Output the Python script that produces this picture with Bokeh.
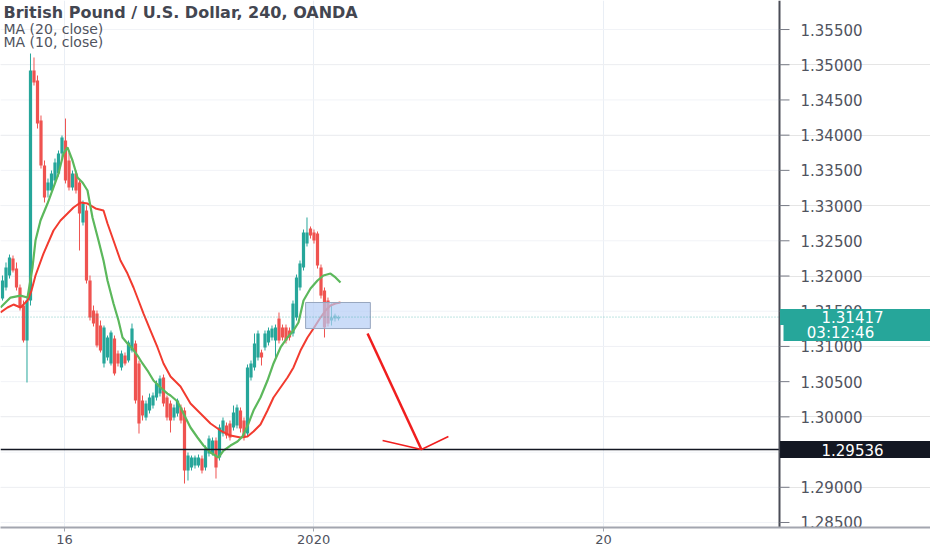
from bokeh.plotting import figure
from bokeh.models import Range1d, FixedTicker, Label, ColumnDataSource
from bokeh.core.properties import value
from bokeh.embed import file_html
from bokeh.resources import INLINE

# ---------------- data (GBP/USD, 4h candles) ----------------
opens = [1.31680, 1.31837, 1.32007, 1.32248, 1.32106, 1.31837, 1.31581, 1.31084, 1.31652, 1.34918,
         1.34776, 1.34208, 1.33569, 1.33214, 1.33214, 1.33356, 1.33455, 1.33739, 1.33924, 1.33640,
         1.33257, 1.33455, 1.33328, 1.32760, 1.32930, 1.31936, 1.31510, 1.31466, 1.31297, 1.30758,
         1.30843, 1.30758, 1.31113, 1.30899, 1.30701, 1.30871, 1.30800, 1.30942, 1.31042, 1.30758,
         1.30232, 1.29991, 1.30090, 1.30161, 1.30275, 1.30331, 1.30559, 1.30275, 1.30189, 1.29991,
         1.30048, 1.30133, 1.30090, 1.29238, 1.29281, 1.29309, 1.29309, 1.29408, 1.29281, 1.29479,
         1.29479, 1.29664, 1.29423, 1.29763, 1.29877, 1.29906, 1.29849, 1.29877, 1.30090, 1.29948,
         1.29763, 1.30559, 1.30701, 1.30843, 1.30914, 1.30985, 1.31056, 1.31127, 1.31084, 1.31396,
         1.31269, 1.31269, 1.31226, 1.31184, 1.31411, 1.31837, 1.32121, 1.32461, 1.32674, 1.32618,
         1.32603, 1.32121, 1.31794, 1.31652, 1.31368, 1.31396, 1.31396]
highs = [1.32007, 1.32192, 1.32305, 1.32291, 1.32192, 1.31879, 1.31652, 1.31694, 1.35159, 1.35103,
         1.34847, 1.34279, 1.33640, 1.33384, 1.33498, 1.33668, 1.33782, 1.33995, 1.34236, 1.33754,
         1.33498, 1.33498, 1.33356, 1.33072, 1.33001, 1.32007, 1.31581, 1.31510, 1.31368, 1.31297,
         1.31155, 1.31226, 1.31155, 1.30942, 1.30942, 1.30914, 1.31084, 1.31325, 1.31084, 1.30800,
         1.30303, 1.30232, 1.30331, 1.30346, 1.30516, 1.30587, 1.30601, 1.30303, 1.30232, 1.30175,
         1.30260, 1.30175, 1.30133, 1.29494, 1.29451, 1.29451, 1.29465, 1.29451, 1.29593, 1.29735,
         1.29707, 1.29707, 1.29892, 1.29991, 1.29920, 1.29948, 1.30161, 1.30175, 1.30133, 1.29991,
         1.30744, 1.30800, 1.31184, 1.31226, 1.30954, 1.31226, 1.31269, 1.31297, 1.31311, 1.31482,
         1.31311, 1.31311, 1.31269, 1.31652, 1.32021, 1.32220, 1.32660, 1.32831, 1.32703, 1.32660,
         1.32632, 1.32163, 1.31837, 1.31694, 1.31609, 1.31466, 1.31439]
lows = [1.31652, 1.31794, 1.31964, 1.32050, 1.31794, 1.31510, 1.31056, 1.30488, 1.31581, 1.34705,
        1.34094, 1.33526, 1.33044, 1.33115, 1.33186, 1.33328, 1.33413, 1.33668, 1.33314, 1.33214,
        1.33214, 1.33171, 1.32362, 1.32717, 1.31893, 1.31368, 1.31283, 1.30985, 1.30914, 1.30701,
        1.30800, 1.30729, 1.30587, 1.30715, 1.30658, 1.30729, 1.30772, 1.30914, 1.30189, 1.29763,
        1.29948, 1.29948, 1.30048, 1.30118, 1.30232, 1.30289, 1.30147, 1.29948, 1.29778, 1.29948,
        1.30005, 1.29906, 1.29053, 1.29096, 1.29238, 1.29266, 1.29281, 1.29196, 1.29238, 1.29437,
        1.29451, 1.29124, 1.29380, 1.29721, 1.29692, 1.29664, 1.29806, 1.29836, 1.29778, 1.29664,
        1.29721, 1.30516, 1.30658, 1.30800, 1.30729, 1.30942, 1.31013, 1.31084, 1.30843, 1.31042,
        1.31084, 1.31042, 1.31084, 1.31141, 1.31368, 1.31794, 1.32078, 1.32419, 1.32532, 1.32461,
        1.32106, 1.31680, 1.31127, 1.31283, 1.31297, 1.31354, 1.31368]
closes = [1.31936, 1.32121, 1.32263, 1.32078, 1.31837, 1.31553, 1.31084, 1.31652, 1.34918, 1.34748,
          1.34165, 1.33569, 1.33115, 1.33328, 1.33455, 1.33612, 1.33739, 1.33967, 1.33356, 1.33257,
          1.33455, 1.33214, 1.32887, 1.33029, 1.31936, 1.31411, 1.31325, 1.31013, 1.30942, 1.31269,
          1.31127, 1.31198, 1.30616, 1.30758, 1.30899, 1.30758, 1.31056, 1.31254, 1.30232, 1.29906,
          1.30019, 1.30189, 1.30275, 1.30303, 1.30474, 1.30544, 1.30189, 1.29991, 1.29948, 1.30133,
          1.30232, 1.29948, 1.29238, 1.29451, 1.29423, 1.29423, 1.29423, 1.29238, 1.29550, 1.29692,
          1.29664, 1.29281, 1.29849, 1.29948, 1.29735, 1.29707, 1.30062, 1.30133, 1.29836, 1.29707,
          1.30701, 1.30758, 1.31042, 1.31184, 1.30843, 1.31184, 1.31226, 1.31254, 1.31269, 1.31084,
          1.31127, 1.31084, 1.31127, 1.31609, 1.31979, 1.32178, 1.32618, 1.32618, 1.32575, 1.32504,
          1.32149, 1.31722, 1.31269, 1.31325, 1.31411, 1.31439, 1.31417]

# moving averages (x = candle index)
ma10_x = [-0.57, 2.29, 5.14, 7.14, 8.57, 9.43, 10.86, 12.86, 14.57, 16.0, 17.43, 18.57, 20.0, 21.43,
          22.86, 24.29, 25.71, 27.43, 28.86, 30.0, 31.71, 33.14, 34.29, 35.71, 37.14, 38.57, 40.0,
          41.43, 43.14, 45.14, 47.14, 48.0, 50.0, 51.71, 53.71, 55.71, 57.43, 59.43, 61.71, 63.14,
          65.14, 67.14, 68.57, 70.29, 71.71, 73.71, 75.71, 77.43, 79.43, 81.43, 83.14, 84.57, 86.0,
          88.0, 90.0, 91.71, 93.71, 95.14, 96.57]
ma10_y = [1.31553, 1.31694, 1.31722, 1.31694, 1.32121, 1.32504, 1.32788, 1.33029, 1.33257, 1.33455,
          1.33739, 1.33825, 1.33640, 1.33399, 1.33328, 1.33214, 1.32831, 1.32504, 1.32220, 1.31936,
          1.31609, 1.31368, 1.31127, 1.31042, 1.30970, 1.30871, 1.30758, 1.30658, 1.30516, 1.30417,
          1.30331, 1.30303, 1.30218, 1.30048, 1.29849, 1.29707, 1.29593, 1.29494, 1.29423, 1.29522,
          1.29593, 1.29650, 1.29721, 1.29906, 1.30090, 1.30275, 1.30516, 1.30758, 1.30985, 1.31127,
          1.31226, 1.31340, 1.31652, 1.31822, 1.31936, 1.32007, 1.32035, 1.31979, 1.31908]
ma20_x = [-0.57, 1.43, 3.14, 5.14, 7.14, 8.29, 9.43, 11.71, 14.57, 16.57, 18.57, 20.29, 22.29, 24.29,
          26.57, 28.86, 30.0, 31.71, 33.71, 35.71, 37.43, 38.86, 40.29, 42.29, 44.29, 46.0, 48.0,
          50.86, 53.71, 56.57, 59.43, 62.29, 65.14, 68.0, 70.0, 71.71, 73.71, 75.71, 77.43, 79.43,
          81.43, 83.14, 85.14, 87.14, 88.86, 90.86, 92.29, 93.71, 95.14, 96.57]
ma20_y = [1.31482, 1.31553, 1.31595, 1.31553, 1.31652, 1.31794, 1.32007, 1.32319, 1.32646, 1.32788,
          1.32887, 1.32973, 1.33044, 1.33029, 1.32959, 1.32930, 1.32745, 1.32504, 1.32220, 1.32035,
          1.31837, 1.31652, 1.31466, 1.31226, 1.30985, 1.30758, 1.30573, 1.30431, 1.30189, 1.30048,
          1.29906, 1.29806, 1.29735, 1.29707, 1.29721, 1.29792, 1.29892, 1.30090, 1.30275, 1.30417,
          1.30559, 1.30701, 1.30942, 1.31127, 1.31254, 1.31411, 1.31510, 1.31581, 1.31609, 1.31624]

price_ticks = [1.285, 1.290, 1.295, 1.300, 1.305, 1.310, 1.315, 1.320, 1.325, 1.330,
               1.335, 1.340, 1.345, 1.350, 1.355]
time_tick_pos = [17.7, 88.9, 171.7]
time_tick_labels = ["16", "2020", "20"]

title_text = "British Pound / U.S. Dollar, 240, OANDA"
ma_labels = ["MA (20, close)", "MA (10, close)"]
support_level = 1.29536
last_price = 1.31417
countdown = "03:12:46"
countdown_level = 1.31191
zone_x = [86.6, 105.1]
zone_y = [1.31254, 1.31624]
arrow_x = [104.3, 119.7]
arrow_y = [1.31184, 1.29536]
head_x = [108.6, 119.7, 127.4]
head_y = [1.29664, 1.29536, 1.29721]

# ---------------- layout / styling constants ----------------
UP = "#26a69a"
DOWN = "#ef5350"
FONT = "DejaVu Sans"
PX = 3.5                      # pixels per candle slot
X_START, X_END = -0.571, 265.143
Y_LOW, Y_HIGH = 1.28429, 1.35912
AXIS_X = 222.0                # price-scale position (in candle slots)
TICK_LEN = 10 / PX
LABEL_X = AXIS_X + 21 / PX

idx = list(range(len(opens)))
colors = [UP if c >= o else DOWN for o, c in zip(opens, closes)]
src = ColumnDataSource(dict(
    x=idx, o=opens, h=highs, l=lows, c=closes,
    top=[max(o, c) for o, c in zip(opens, closes)],
    bottom=[min(o, c) for o, c in zip(opens, closes)],
    color=colors,
))

p = figure(frame_width=930, frame_height=527,
           x_range=Range1d(X_START, X_END), y_range=Range1d(Y_LOW, Y_HIGH),
           y_axis_location=None, output_backend="svg", toolbar_location=None,
           min_border_left=0, min_border_top=0, min_border_right=0, min_border_bottom=21)
p.outline_line_color = None
p.background_fill_color = "white"

# time axis
xax = p.xaxis[0]
xax.ticker = FixedTicker(ticks=time_tick_pos)
xax.major_label_overrides = {pos: lab for pos, lab in zip(time_tick_pos, time_tick_labels)}
xax.axis_line_color = "#a3a6af"
xax.axis_line_width = 2
xax.major_tick_in = 0
xax.major_tick_out = 4
xax.major_tick_line_color = "#a3a6af"
xax.minor_tick_line_color = None
xax.major_label_standoff = 3
xax.major_label_text_font = FONT
xax.major_label_text_font_size = "13px"
xax.major_label_text_color = "#50535e"
p.xgrid.grid_line_color = "#e9eef5"

# horizontal price grid (stops at the price scale)
n = len(price_ticks)
p.segment(x0=[X_START] * n, y0=price_ticks, x1=[AXIS_X] * n, y1=price_ticks,
          line_color="#f1f3f7", line_width=1)

# candles
p.segment(x0="x", y0="l", x1="x", y1="h", line_color="color", line_width=1, source=src)
p.vbar(x="x", width=0.92, top="top", bottom="bottom", fill_color="color",
       line_color=None, source=src)

# moving averages
p.line(ma20_x, ma20_y, line_color="#f23b2f", line_width=2)
p.line(ma10_x, ma10_y, line_color="#5cb85c", line_width=2.2)

# highlighted zone
p.quad(left=[zone_x[0]], right=[zone_x[1]], bottom=[zone_y[0]], top=[zone_y[1]],
       fill_color="#b5cdf5", fill_alpha=0.7, line_color="#97a6bf", line_width=1)

# last price dotted line & support level
p.segment(x0=[X_START], y0=[last_price], x1=[AXIS_X], y1=[last_price],
          line_color=UP, line_alpha=0.6, line_width=1, line_dash="1 2")
p.segment(x0=[X_START], y0=[support_level], x1=[AXIS_X], y1=[support_level],
          line_color="#131722", line_width=1.5)

# arrow
p.line(arrow_x, arrow_y, line_color="#f01e1e", line_width=2.5)
p.line(head_x, head_y, line_color="#f01e1e", line_width=1.5)

# price scale: line, ticks, labels
p.segment(x0=[AXIS_X], y0=[Y_LOW], x1=[AXIS_X], y1=[Y_HIGH],
          line_color="#4a4d57", line_width=2)
p.segment(x0=[AXIS_X] * n, y0=price_ticks, x1=[AXIS_X + TICK_LEN] * n, y1=price_ticks,
          line_color="#787b86", line_width=1)
p.text(x=[LABEL_X] * n, y=price_ticks, text=[f"{t:.5f}" for t in price_ticks],
       text_font=value(FONT), text_font_size="15px", text_color="#50535e",
       text_align="left", text_baseline="middle")

# price-scale tags
tag_levels = [last_price, countdown_level, support_level]
tag_texts = [f"{last_price:.5f}", countdown, f"{support_level:.5f}"]
tag_colors = [UP, UP, "#131722"]
tag_left = [AXIS_X + 0.15, AXIS_X + 4 / PX, AXIS_X + 0.15]
tag_h = [16, 16, 17]
tag_text_x = [AXIS_X + 73 / PX, AXIS_X + 61 / PX, AXIS_X + 73 / PX]
p.rect(x=[(l + X_END) / 2 for l in tag_left], y=tag_levels,
       width=[X_END - l for l in tag_left], height=tag_h, height_units="screen",
       fill_color=tag_colors, line_color=None)
p.text(x=tag_text_x, y=tag_levels, text=tag_texts, text_color="white",
       text_font=value(FONT), text_font_size="15px",
       text_align="center", text_baseline="middle")

# legend / title texts
p.add_layout(Label(x=3, y=1.35742, x_units="screen", text=title_text, text_font=FONT,
                   text_font_style="bold", text_font_size="16px", text_color="#434651",
                   text_baseline="middle"))
for lab, yy in zip(ma_labels, [1.35514, 1.35316]):
    p.add_layout(Label(x=3, y=yy, x_units="screen", text=lab, text_font=FONT,
                       text_font_size="14px", text_color="#50535e", text_baseline="middle"))

open("out.html", "w").write(file_html(p, INLINE))
